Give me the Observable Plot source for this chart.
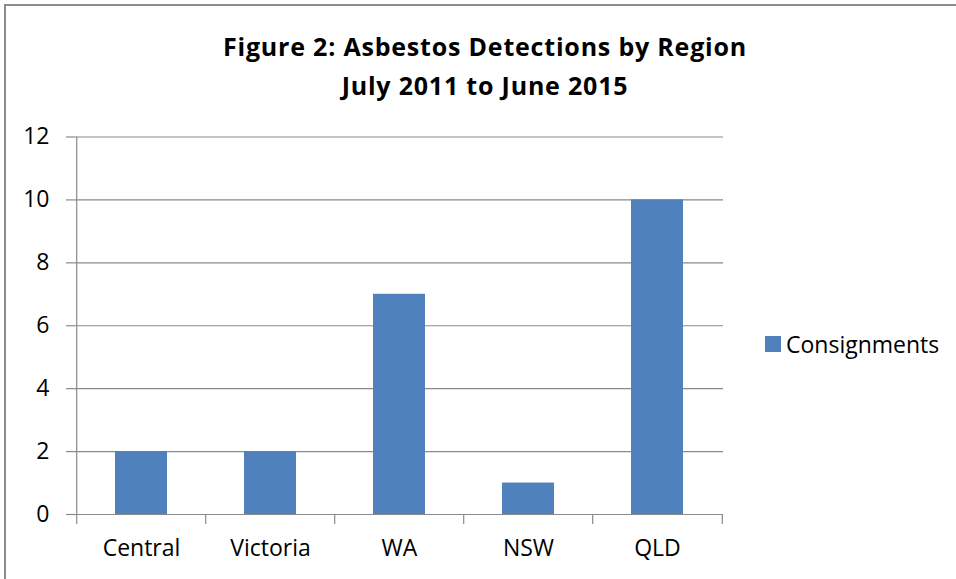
<!DOCTYPE html>
<html>
<head>
<meta charset="utf-8">
<script src="https://cdn.jsdelivr.net/npm/d3@7"></script>
<script src="https://cdn.jsdelivr.net/npm/@observablehq/plot@0.6"></script>
<style>
  html, body { margin: 0; padding: 0; background: #fff; }
  #wrap { position: relative; width: 956px; height: 579px; overflow: hidden; font-family: "Open Sans", Lato, sans-serif; color: #000; }
  #frame { position: absolute; left: 4px; top: 4px; width: 980px; height: 600px; border: 2px solid #8c8c8c; box-sizing: border-box; }
  #title { position: absolute; left: 0; width: 970px; top: 27px; text-align: center; font-weight: bold; font-size: 25px; letter-spacing: 0.8px; line-height: 39px; }
  #legend { position: absolute; left: 765px; top: 328px; font-size: 23px; display: flex; align-items: center; }
  #legend .sw { width: 16px; height: 16px; background: #4F81BD; margin-right: 5px; }
  #chart { position: absolute; left: 0; top: 0; }
</style>
</head>
<body>
<div id="wrap">
  <div id="frame"></div>
  <div id="chart"></div>
  <div id="title">Figure 2: Asbestos Detections by Region<br>July 2011 to June 2015</div>
  <div id="legend"><div class="sw"></div><span id="legendLabel"></span></div>
</div>
<script>
const regions = ["Central", "Victoria", "WA", "NSW", "QLD"];
const consignments = [2, 2, 7, 1, 10];
const seriesName = "Consignments";
const yTicks = [0, 2, 4, 6, 8, 10, 12];

const data = regions.map((r, i) => ({region: r, value: consignments[i]}));

const W = 956, H = 579, mL = 75, mR = 233, mT = 136.5, mB = 65;
const step = (W - mL - mR) / regions.length;
const gridColor = "#8a8a8a";
const barColor = "#4F81BD";

document.getElementById("legendLabel").textContent = seriesName;

const chart = Plot.plot({
  width: W,
  height: H,
  marginLeft: mL,
  marginRight: mR,
  marginTop: mT,
  marginBottom: mB,
  style: {fontFamily: "'Open Sans', Lato, sans-serif", fontSize: "23px", color: "#000", background: "transparent"},
  x: {domain: regions, paddingInner: 0.6, paddingOuter: 0.3, label: null},
  y: {domain: [0, 12], label: null},
  marks: [
    Plot.gridY(yTicks.filter(d => d > 0), {stroke: gridColor, strokeOpacity: 1, strokeWidth: 1.2}),
    Plot.barY(data, {x: "region", y: "value", fill: barColor}),
    Plot.axisY(yTicks, {tickSize: 9, tickPadding: 17, stroke: gridColor, strokeWidth: 1.2, fill: "#000", fontSize: 23}),
    Plot.axisX({tickSize: 0, tickPadding: 25, fill: "#000", fontSize: 23}),
    Plot.ruleY([0], {stroke: gridColor, strokeWidth: 1.2, insetLeft: -9}),
    Plot.ruleX([regions[0]], {x: d => d, dx: -step / 2, y1: 12, y2: 0, insetBottom: -10, stroke: gridColor, strokeWidth: 1.2}),
    Plot.ruleX(regions.slice(1), {x: d => d, dx: -step / 2, y1: 0, y2: 0, insetBottom: -10, stroke: gridColor, strokeWidth: 1.2}),
    Plot.ruleX([regions[regions.length - 1]], {x: d => d, dx: step / 2, y1: 0, y2: 0, insetBottom: -10, stroke: gridColor, strokeWidth: 1.2})
  ]
});
document.getElementById("chart").appendChild(chart);
</script>
</body>
</html>
